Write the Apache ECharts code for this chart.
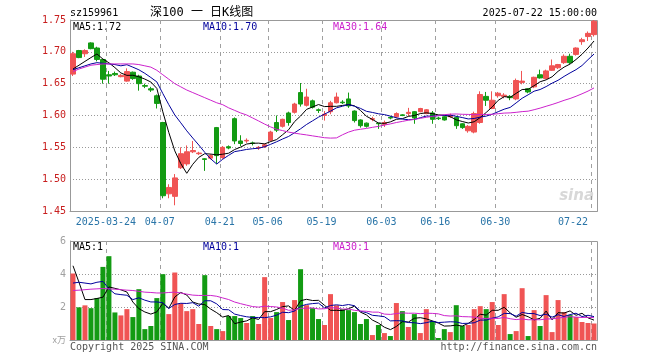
<!DOCTYPE html>
<html><head><meta charset="utf-8">
<script src="https://cdn.jsdelivr.net/npm/echarts@6/dist/echarts.min.js"></script>
<style>html,body{margin:0;padding:0;background:#fff}#c{width:660px;height:360px}</style>
</head><body><div id="c"></div>
<script>
const dates = ['2025-03-14','2025-03-17','2025-03-18','2025-03-19','2025-03-20','2025-03-21','2025-03-24','2025-03-25','2025-03-26','2025-03-27','2025-03-28','2025-03-31',
'2025-04-01','2025-04-02','2025-04-03','2025-04-07','2025-04-08','2025-04-09','2025-04-10','2025-04-11','2025-04-14','2025-04-15','2025-04-16','2025-04-17','2025-04-18','2025-04-21','2025-04-22','2025-04-23','2025-04-24','2025-04-25','2025-04-28','2025-04-29','2025-04-30',
'2025-05-06','2025-05-07','2025-05-08','2025-05-09','2025-05-12','2025-05-13','2025-05-14','2025-05-15','2025-05-16','2025-05-19','2025-05-20','2025-05-21','2025-05-22','2025-05-23','2025-05-26','2025-05-27','2025-05-28','2025-05-29','2025-05-30',
'2025-06-03','2025-06-04','2025-06-05','2025-06-06','2025-06-09','2025-06-10','2025-06-11','2025-06-12','2025-06-13','2025-06-16','2025-06-17','2025-06-18','2025-06-19','2025-06-20','2025-06-23','2025-06-24','2025-06-25','2025-06-26','2025-06-27','2025-06-30',
'2025-07-01','2025-07-02','2025-07-03','2025-07-04','2025-07-07','2025-07-08','2025-07-09','2025-07-10','2025-07-11','2025-07-14','2025-07-15','2025-07-16','2025-07-17','2025-07-18','2025-07-21','2025-07-22'];
const tickDates = ['2025-03-24','2025-04-07','2025-04-21','2025-05-06','2025-05-19','2025-06-03','2025-06-16','2025-06-30','2025-07-22'];

const opens  = [1.665,1.702,1.697,1.714,1.706,1.688,1.664,1.666,1.661,1.654,1.668,1.662,1.647,1.642,1.631,1.589,1.477,1.473,1.518,1.524,1.543,1.540,1.532,1.533,1.581,1.534,1.551,1.595,1.560,1.560,1.557,1.549,1.551,1.561,1.589,1.583,1.604,1.605,1.636,1.616,1.623,1.609,1.600,1.606,1.620,1.621,1.626,1.607,1.593,1.588,1.594,1.588,1.586,1.597,1.598,1.601,1.603,1.606,1.606,1.603,1.604,1.596,1.598,1.598,1.597,1.587,1.576,1.574,1.589,1.630,1.611,1.631,1.630,1.630,1.626,1.652,1.642,1.645,1.664,1.658,1.671,1.675,1.683,1.693,1.696,1.716,1.724,1.727];
const closes = [1.697,1.691,1.702,1.705,1.688,1.657,1.662,1.664,1.663,1.669,1.658,1.650,1.646,1.640,1.619,1.474,1.487,1.502,1.540,1.543,1.545,1.541,1.531,1.537,1.537,1.550,1.549,1.560,1.556,1.561,1.556,1.550,1.554,1.574,1.577,1.594,1.589,1.618,1.618,1.629,1.613,1.608,1.602,1.620,1.629,1.620,1.615,1.592,1.584,1.583,1.595,1.587,1.589,1.596,1.603,1.600,1.605,1.596,1.611,1.609,1.594,1.595,1.593,1.600,1.584,1.581,1.583,1.603,1.633,1.624,1.624,1.635,1.632,1.628,1.655,1.654,1.637,1.660,1.659,1.670,1.678,1.680,1.693,1.683,1.706,1.719,1.729,1.748];
const lows   = [1.662,1.690,1.692,1.704,1.685,1.650,1.650,1.662,1.660,1.653,1.656,1.639,1.643,1.637,1.611,1.470,1.470,1.459,1.516,1.521,1.541,1.538,1.513,1.531,1.524,1.532,1.547,1.555,1.552,1.557,1.553,1.546,1.549,1.559,1.574,1.581,1.584,1.603,1.614,1.614,1.611,1.604,1.592,1.602,1.619,1.618,1.612,1.589,1.581,1.581,1.591,1.579,1.582,1.594,1.596,1.599,1.599,1.587,1.605,1.602,1.587,1.593,1.592,1.596,1.579,1.579,1.573,1.572,1.587,1.615,1.610,1.628,1.627,1.624,1.624,1.649,1.635,1.643,1.658,1.657,1.670,1.673,1.681,1.681,1.694,1.711,1.717,1.724];
const highs  = [1.700,1.703,1.704,1.715,1.708,1.689,1.670,1.669,1.665,1.674,1.669,1.664,1.650,1.645,1.633,1.590,1.492,1.508,1.550,1.553,1.560,1.543,1.533,1.539,1.582,1.552,1.553,1.597,1.569,1.564,1.559,1.552,1.556,1.576,1.600,1.595,1.606,1.620,1.651,1.642,1.625,1.611,1.607,1.623,1.636,1.624,1.636,1.608,1.594,1.589,1.598,1.588,1.592,1.599,1.605,1.602,1.612,1.607,1.612,1.610,1.607,1.598,1.599,1.603,1.599,1.588,1.585,1.606,1.638,1.637,1.638,1.637,1.635,1.632,1.658,1.670,1.643,1.661,1.672,1.672,1.688,1.681,1.696,1.697,1.707,1.722,1.732,1.750];
// volume in 万手
const volumes = [4.03,1.98,2.10,1.93,2.54,4.43,5.08,1.67,1.49,1.87,1.39,3.08,0.66,0.85,2.54,3.99,1.57,4.09,2.22,1.75,1.87,0.97,3.93,0.85,0.66,0.54,1.45,1.45,1.33,1.03,1.45,0.97,3.81,1.33,1.69,2.30,1.21,2.42,4.29,2.11,1.93,1.27,0.91,
2.78,2.10,1.87,1.81,1.69,0.97,1.27,0.30,0.91,0.42,0.24,2.24,1.75,0.79,1.57,0.42,1.87,1.15,0.12,0.66,0.48,2.11,0.85,0.91,1.87,2.05,1.87,2.30,0.91,2.78,0.36,0.54,3.14,0.24,1.81,0.85,2.72,0.48,2.42,1.69,1.51,1.39,1.09,1.03,1.00];
// moving-average values before enough in-window history exists
const ma5Lead  = [1.673,1.679,1.685,1.691];
const ma10Lead = [1.672,1.675,1.678,1.681,1.683,1.682,1.681,1.680,1.678];
const ma30Lead = [1.669,1.673,1.676,1.679,1.680,1.681,1.681,1.681,1.681,1.681,1.681,1.680,1.678,1.676,1.671,1.664,1.657,1.650,1.645,1.640,1.636,1.632,1.628,1.624,1.620,1.617,1.612,1.608,1.604];
const vma5Lead  = [4.5,3.5,2.45,2.45];
const vma10Lead = [3.45,3.5,3.45,3.4,3.5,3.55,3.1,2.8,2.75];
const vma30Lead = [3.0,3.02,3.05,3.08,3.1,3.12,3.1,3.08,3.05,3.02,3.0,2.95,2.9,2.88,2.85,2.85,2.88,2.9,2.85,2.78,2.72,2.7,2.7,2.7,2.65,2.55,2.45,2.3,2.2];
const yTicks = [1.45,1.50,1.55,1.60,1.65,1.70,1.75];
const volTicks = [0,2,4,6];

function ma(src, n, lead){
  return src.map((v,i)=>{
    if(i < n-1) return lead[i];
    let s=0; for(let k=i-n+1;k<=i;k++) s+=src[k];
    return +(s/n).toFixed(4);
  });
}
const ma5 = ma(closes,5,ma5Lead), ma10 = ma(closes,10,ma10Lead), ma30 = ma(closes,30,ma30Lead);
const vma5 = ma(volumes,5,vma5Lead), vma10 = ma(volumes,10,vma10Lead), vma30 = ma(volumes,30,vma30Lead);

const UP='#f05454', DOWN='#139b13';
const kData = dates.map((d,i)=>[opens[i],closes[i],lows[i],highs[i]]);
const vData = volumes.map((v,i)=>({value:v, itemStyle:{color: closes[i]>=opens[i]?UP:DOWN}}));
const tickIdx = tickDates.map(d=>dates.indexOf(d));   // category boundaries for the dashed date lines
const showTick = (idx)=> tickIdx.indexOf(idx)>=0;
const MONO = "'DejaVu Sans Mono', monospace";
const G0 = {left:70, top:20, width:527, height:191}, G1 = {left:70, top:241, width:527, height:99};

const chart = echarts.init(document.getElementById('c'), null, {renderer:'canvas'});
const gridLine = {show:true, lineStyle:{color:'#999999', type:[1,2], width:1}};
chart.setOption({
  animation:false,
  grid:[Object.assign({show:false}, G0), Object.assign({show:false}, G1)],
  xAxis:[{type:'category', gridIndex:0, data:dates, boundaryGap:true,
          axisLine:{show:true, lineStyle:{color:'#999'}}, axisTick:{show:false},
          axisLabel:{interval:(i)=>showTick(i), color:'#2a75a8', fontFamily:MONO, fontSize:10, margin:6,
                     padding:[0,6,0,0], alignMaxLabel:'right',
                     formatter:(v)=> v===tickDates[0]? v : v.slice(5)},
          splitLine:{show:false}},
         {type:'category', gridIndex:1, data:dates, boundaryGap:true,
          axisLine:{show:true, lineStyle:{color:'#999'}}, axisTick:{show:false}, axisLabel:{show:false},
          splitLine:{show:false}},
         // hidden index scale (band edges) used to locate the dashed date lines
         {type:'value', gridIndex:0, min:0, max:dates.length, show:false}],
  yAxis:[{type:'value', gridIndex:0, min:yTicks[0], max:yTicks[yTicks.length-1], interval:0.05,
          axisLine:{show:true, lineStyle:{color:'#999'}}, axisTick:{show:false},
          axisLabel:{color:'#c81e1e', fontFamily:MONO, fontSize:10, margin:4, formatter:(v)=>v.toFixed(2)},
          splitLine:gridLine},
         {type:'value', gridIndex:1, min:volTicks[0], max:volTicks[volTicks.length-1], interval:2,
          axisLine:{show:true, lineStyle:{color:'#999'}}, axisTick:{show:false},
          axisLabel:{color:'#a0a0a0', fontFamily:MONO, fontSize:10, margin:4, formatter:(v)=> v===0?'':String(v)},
          splitLine:gridLine}],
  series:[
    {type:'line', xAxisIndex:2, yAxisIndex:0, data:tickIdx.map(i=>[i, yTicks[0]]), symbol:'none', lineStyle:{opacity:0}, silent:true, z:1},
    {type:'candlestick', xAxisIndex:0, yAxisIndex:0, data:kData, barWidth:5,
     itemStyle:{color:UP, color0:DOWN, borderColor:UP, borderColor0:DOWN, borderWidth:1}},
    {type:'line', xAxisIndex:0, yAxisIndex:0, data:ma5, symbol:'none', lineStyle:{color:'#000000', width:1}},
    {type:'line', xAxisIndex:0, yAxisIndex:0, data:ma10, symbol:'none', lineStyle:{color:'#00009c', width:1}},
    {type:'line', xAxisIndex:0, yAxisIndex:0, data:ma30, symbol:'none', lineStyle:{color:'#cc22cc', width:1}},
    {type:'bar', xAxisIndex:1, yAxisIndex:1, data:vData, barWidth:5},
    {type:'line', xAxisIndex:1, yAxisIndex:1, data:vma5, symbol:'none', lineStyle:{color:'#000000', width:1}},
    {type:'line', xAxisIndex:1, yAxisIndex:1, data:vma10, symbol:'none', lineStyle:{color:'#00009c', width:1}},
    {type:'line', xAxisIndex:1, yAxisIndex:1, data:vma30, symbol:'none', lineStyle:{color:'#cc22cc', width:1}}
  ],
  graphic:[
    {id:'b0', type:'rect', shape:{x:G0.left+0.5, y:G0.top+0.5, width:G0.width, height:G0.height}, style:{fill:'none', stroke:'#999', lineWidth:1}, silent:true, z:-1},
    {id:'b1', type:'rect', shape:{x:G1.left+0.5, y:G1.top+0.5, width:G1.width, height:G1.height}, style:{fill:'none', stroke:'#999', lineWidth:1}, silent:true, z:-1},
    {id:'t1', type:'text', x:70, y:13, style:{text:'sz159961', font:"10px "+MONO, fill:'#000', textVerticalAlign:'middle'}},
    {id:'t2', type:'text', x:150, y:13, style:{text:'深100 一 日K线图', font:"12px 'DejaVu Sans Mono','Noto Sans CJK SC'", fill:'#000', textVerticalAlign:'middle'}},
    {id:'t3', type:'text', x:597, y:13, style:{text:'2025-07-22 15:00:00', font:"10px "+MONO, fill:'#000', textAlign:'right', textVerticalAlign:'middle'}},
    {id:'t4', type:'text', x:73, y:27, style:{text:'MA5:1.72', font:"10px "+MONO, fill:'#000', textVerticalAlign:'middle'}},
    {id:'t5', type:'text', x:203, y:27, style:{text:'MA10:1.70', font:"10px "+MONO, fill:'#00009c', textVerticalAlign:'middle'}},
    {id:'t6', type:'text', x:333, y:27, style:{text:'MA30:1.64', font:"10px "+MONO, fill:'#cc22cc', textVerticalAlign:'middle'}},
    {id:'t7', type:'text', x:73, y:247, style:{text:'MA5:1', font:"10px "+MONO, fill:'#000', textVerticalAlign:'middle'}},
    {id:'t8', type:'text', x:203, y:247, style:{text:'MA10:1', font:"10px "+MONO, fill:'#00009c', textVerticalAlign:'middle'}},
    {id:'t9', type:'text', x:333, y:247, style:{text:'MA30:1', font:"10px "+MONO, fill:'#cc22cc', textVerticalAlign:'middle'}},
    {id:'t10', type:'text', x:66, y:340, style:{text:'x万', font:"9px 'Noto Sans CJK SC'", fill:'#a0a0a0', textAlign:'right', textVerticalAlign:'middle'}},
    {id:'t11', type:'text', x:70, y:347, style:{text:'Copyright 2025 SINA.COM', font:"10px "+MONO, fill:'#555', textVerticalAlign:'middle'}},
    {id:'t12', type:'text', x:597, y:347, style:{text:'http://finance.sina.com.cn', font:"10px "+MONO, fill:'#555', textAlign:'right', textVerticalAlign:'middle'}},
    {id:'t13', type:'text', x:594, y:196, style:{text:'sina', font:"italic bold 15px 'DejaVu Sans'", fill:'#d8d8d8', textAlign:'right', textVerticalAlign:'middle'}}
  ]
});
// dashed date lines at category band edges, located through the chart's own scale
try {
  const extra = [];
  tickIdx.forEach((idx, k)=>{
    const px = chart.convertToPixel({xAxisIndex:2}, idx);
    if (px == null || isNaN(px)) return;
    const x = Math.round(px) + 0.5;
    [G0, G1].forEach((g, gi)=>{
      extra.push({id:'d'+gi+'_'+k, type:'line', silent:true, z:1,
        shape:{x1:x, y1:g.top, x2:x, y2:g.top+g.height},
        style:{stroke:'#a0a0a0', lineWidth:1, lineDash:[4,4]}});
    });
  });
  chart.setOption({graphic: extra});
} catch(e) { console.log(e); }
</script></body></html>
